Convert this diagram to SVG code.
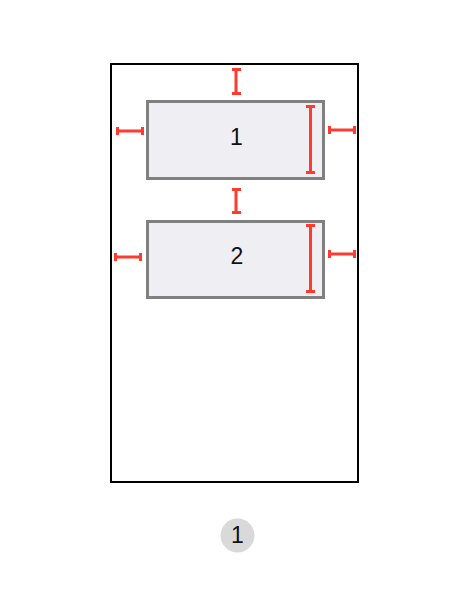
<svg xmlns="http://www.w3.org/2000/svg" width="468" height="612" viewBox="0 0 468 612">
<style>
.frame{fill:none;stroke:#000;stroke-width:2}
.box{fill:#efeef3;stroke:#808080;stroke-width:3}
.lbl{font-family:"Liberation Sans",Arial,sans-serif;font-size:23px;fill:#111;text-anchor:middle;dominant-baseline:central}
.m{stroke:#ff3b30;stroke-width:3;fill:none}
</style>
<rect width="468" height="612" fill="#fff"/>
<rect class="frame" x="111" y="64" width="247" height="418"/>
<g id="node1">
<rect class="box" x="147.5" y="101.5" width="176" height="77"/>
<text class="lbl" x="236.5" y="137">1</text>
</g>
<g id="node2">
<rect class="box" x="147.5" y="221.5" width="176" height="76"/>
<text class="lbl" x="237" y="256">2</text>
</g>
<g id="markers">
<path class="m" d="M236 69V94M232 69.5H241M232 93.5H241"/>
<path class="m" d="M117 131H143M117.5 127V135M142.5 127V135"/>
<path class="m" d="M329 130H355M329.5 126V134M354.5 126V134"/>
<path class="m" d="M310.5 106V173M306 106.5H315M306 172.5H315"/>
<path class="m" d="M236 189V213M232 189.5H241M232 212.5H241"/>
<path class="m" d="M115 257H141M115.5 253V261M140.5 253V261"/>
<path class="m" d="M329 254H355M329.5 250V258M354.5 250V258"/>
<path class="m" d="M310.5 225V292M306 225.5H315M306 291.5H315"/>
</g>
<g id="page">
<circle cx="237.5" cy="535.5" r="17" fill="#d9d9d9"/>
<text class="lbl" x="237.5" y="535">1</text>
</g>
</svg>
